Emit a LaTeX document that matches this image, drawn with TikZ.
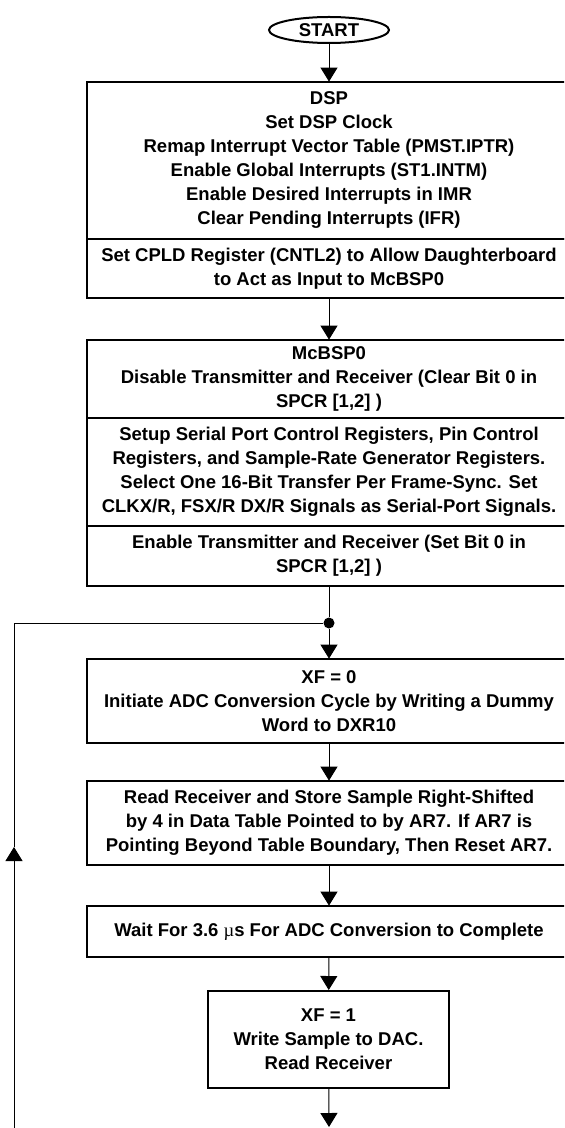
\documentclass[tikz,border=0pt]{standalone}
\usepackage{fontspec}
\setmainfont{Liberation Sans}
\newfontfamily\symfont{Liberation Serif}
\usepackage{tikz}
\usetikzlibrary{shapes.geometric, arrows.meta}

\begin{document}
\begin{tikzpicture}[x=0.5pt, y=-0.5pt, >={Triangle[width=8.5pt, length=7pt]},
    every node/.style={font=\fontsize{9.25}{12}\selectfont\bfseries, align=center, inner sep=0pt},
    flowbox/.style={rectangle, minimum width=242pt},
    boxline/.style={line width=1pt},
    flowline/.style={line width=0.5pt}]

  % Page frame (wide boxes run past the right edge)
  \useasboundingbox (0,0) rectangle (564,1128);
  \clip (0,0) rectangle (564,1128);
  \coordinate (edge) at (600,0);

  % Start terminal
  \node[draw, boxline, ellipse, minimum width=60pt, minimum height=13pt] (start) at (329,30) {START};

  % DSP set-up block
  \node[flowbox, minimum height=78.5pt] (dsp) at (329,160.5) {DSP\\Set DSP Clock\\Remap Interrupt Vector Table (PMST.IPTR)\\Enable Global Interrupts (ST1.INTM)\\Enable Desired Interrupts in IMR\\Clear Pending Interrupts (IFR)};
  \node[flowbox, minimum height=29.5pt] (cpld) at (329,268.5) {Set CPLD Register (CNTL2) to Allow Daughterboard\\to Act as Input to McBSP0};

  % McBSP0 set-up block
  \node[flowbox, minimum height=39pt] (mcbsp) at (329,379) {McBSP0\\Disable Transmitter and Receiver (Clear Bit 0 in\\SPCR [1,2] )};
  \node[flowbox, minimum height=54pt] (setup) at (329,472) {Setup Serial Port Control Registers, Pin Control\\Registers, and Sample-Rate Generator Registers.\\Select One 16-Bit Transfer Per Frame-Sync. Set\\CLKX/R, FSX/R DX/R Signals as Serial-Port Signals.};
  \node[flowbox, minimum height=30pt] (enable) at (329,556) {Enable Transmitter and Receiver (Set Bit 0 in\\SPCR [1,2] )};

  % Sample loop
  \node[circle, fill, minimum size=5.5pt] (dot) at (329,623) {};
  \node[flowbox, minimum height=42pt] (xfzero) at (329,701) {XF = 0\\Initiate ADC Conversion Cycle by Writing a Dummy\\Word to DXR10};
  \node[flowbox, minimum height=42pt] (readrx) at (329,823) {Read Receiver and Store Sample Right-Shifted\\by 4 in Data Table Pointed to by AR7. If AR7 is\\Pointing Beyond Table Boundary, Then Reset AR7.};
  \node[flowbox, minimum height=25.5pt] (wait) at (329,931.5) {Wait For 3.6 {\symfont\mdseries µ}s For ADC Conversion to Complete};
  \node[draw, boxline, flowbox, minimum width=120.5pt, minimum height=48.5pt] (xfone) at (328.5,1039.5) {XF = 1\\Write Sample to DAC.\\Read Receiver};

  % Box outlines, cut off by the right edge
  \foreach \b in {dsp, cpld, mcbsp, setup, enable, xfzero, readrx, wait}
    \draw[boxline] (\b.north west) rectangle (\b.south -| edge);

  \coordinate (endtip) at (329,1127);
  \coordinate (loopbot) at (14,1130);
  \coordinate (looptip) at (14,847);
  \coordinate (loopcorner) at (14,623);

  % Connectors
  \draw[flowline, ->] (start) -- (dsp);
  \draw[flowline, ->] (cpld) -- (mcbsp);
  \draw[flowline] (enable) -- (dot);
  \draw[flowline, ->] (dot) -- (xfzero);
  \draw[flowline, ->] (xfzero) -- (readrx);
  \draw[flowline, ->] (readrx) -- (wait);
  \draw[flowline, ->] (wait) -- (xfone);
  \draw[flowline, ->] (xfone) -- (endtip);

  % Return path
  \draw[flowline, ->] (loopbot) -- (looptip);
  \draw[flowline] (looptip) -- (loopcorner) -- (dot);

\end{tikzpicture}
\end{document}
